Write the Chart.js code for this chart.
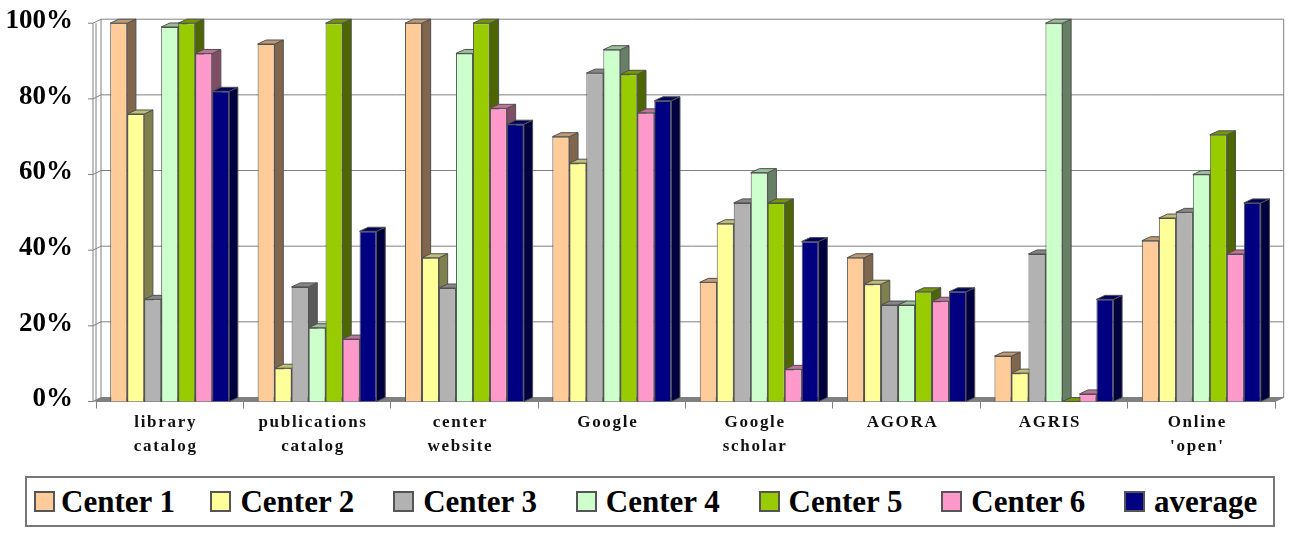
<!DOCTYPE html>
<html>
<head>
<meta charset="utf-8">
<script src="https://cdn.jsdelivr.net/npm/chart.js@4"></script>
<style>
  html, body { margin: 0; padding: 0; background: #fff; }
  #wrap { position: relative; width: 1289px; height: 539px; overflow: hidden; filter: blur(0.6px); }
  canvas { position: absolute; left: 0; top: 0; }
  #legendContainer {
    position: absolute; left: 25px; top: 476px; width: 1250px; height: 51px;
    box-sizing: border-box; border: 2px solid #777; background: #fff;
    display: flex; align-items: center; padding-left: 7px; gap: 38.8px;
    font: bold 31px "Liberation Serif", serif; color: #000; white-space: nowrap;
  }
  .legendItem { display: flex; align-items: center; }
  .legendItem:first-child { margin-right: -3.3px; }
  .legendBox { width: 21px; height: 21px; box-sizing: border-box; border: 2px solid #555; margin-right: 9px; }
  .legendItem:first-child .legendBox { margin-right: 6px; }
</style>
</head>
<body>
<div id="wrap">
  <canvas id="chart" width="1289" height="539"></canvas>
  <div id="legendContainer"></div>
</div>
<script>
const categories = [
  ['library', 'catalog'],
  ['publications', 'catalog'],
  ['center', 'website'],
  'Google',
  ['Google', 'scholar'],
  'AGORA',
  'AGRIS',
  ['Online', "'open'"]
];
const yTickValues = [0, 20, 40, 60, 80, 100];

const seriesNames = ['Center 1', 'Center 2', 'Center 3', 'Center 4', 'Center 5', 'Center 6', 'average'];
const seriesColors = ['#FFCC99', '#FFFF99', '#B2B2B2', '#CCFFCC', '#99CC00', '#FF99CC', '#000080'];

const center1 = [100, 94.5, 100, 70, 31.5, 38, 12, 42.5];
const center2 = [76, 8.8, 38, 63, 47, 31, 7.5, 48.5];
const center3 = [27, 30.3, 30, 86.8, 52.5, 25.5, 39, 50];
const center4 = [99, 19.5, 92, 93, 60.5, 25.5, 100, 60];
const center5 = [100, 100, 100, 86.5, 52.5, 29, 0, 70.5];
const center6 = [92, 16.5, 77.5, 76.3, 8.5, 26.5, 2, 39];
const average = [82, 45, 73.3, 79.5, 42.3, 29, 27, 52.5];
const seriesValues = [center1, center2, center3, center4, center5, center6, average];

// depth of the fake 3D look
const depthX = 8.7;
const depthY = 4;
const wallLine = '#808080';
const barLine = '#505050';

function shade(hex, f) {
  const n = parseInt(hex.slice(1), 16);
  const r = Math.round(((n >> 16) & 255) * f);
  const g = Math.round(((n >> 8) & 255) * f);
  const b = Math.round((n & 255) * f);
  return `rgb(${r},${g},${b})`;
}

function poly(ctx, pts, fill, stroke) {
  ctx.beginPath();
  pts.forEach((p, i) => i ? ctx.lineTo(p[0], p[1]) : ctx.moveTo(p[0], p[1]));
  ctx.closePath();
  if (fill) { ctx.fillStyle = fill; ctx.fill(); }
  if (stroke) { ctx.strokeStyle = stroke; ctx.lineWidth = 1; ctx.stroke(); }
}

const box3d = {
  id: 'box3d',
  // walls, floor and gridlines go behind the bars
  beforeDatasetsDraw(chart) {
    const { ctx, chartArea, scales } = chart;
    const y = scales.y;
    const frontX = chartArea.left - 3;
    const backX = frontX + 8;
    const rightX = chartArea.right;
    const y0 = y.getPixelForValue(0);
    const yTop = y.getPixelForValue(100);
    ctx.save();
    poly(ctx, [[frontX, y0], [rightX, y0], [rightX + depthX, y0 - depthY], [backX, y0 - depthY]], wallLine);
    ctx.strokeStyle = wallLine;
    ctx.lineWidth = 1;
    ctx.beginPath();
    yTickValues.forEach(v => {
      const py = y.getPixelForValue(v);
      ctx.moveTo(frontX - 5, py);
      ctx.lineTo(frontX, py);
      ctx.lineTo(backX, py - depthY);
      ctx.lineTo(rightX + depthX, py - depthY);
    });
    [frontX, chartArea.left, backX].forEach(px => {
      const shift = px === backX ? depthY : 0;
      ctx.moveTo(px, yTop - shift);
      ctx.lineTo(px, y0 - shift);
    });
    ctx.moveTo(rightX + depthX, yTop - depthY);
    ctx.lineTo(rightX + depthX, y0 - depthY);
    ctx.lineTo(rightX, y0);
    ctx.stroke();
    ctx.restore();
  },
  // chart.js paints datasets last to first, we need first to last so each
  // bar covers the side of its left neighbour
  beforeDatasetDraw() {
    return false;
  },
  afterDatasetsDraw(chart) {
    const { ctx } = chart;
    ctx.save();
    chart.data.datasets.forEach((ds, i) => {
      chart.getDatasetMeta(i).data.forEach(bar => {
        const p = bar.getProps(['x', 'y', 'base', 'width']);
        const l = p.x - p.width / 2;
        const r = p.x + p.width / 2;
        poly(ctx, [[r, p.y], [r + depthX, p.y - depthY], [r + depthX, p.base - depthY], [r, p.base]], shade(seriesColors[i], 0.5), barLine);
        poly(ctx, [[l, p.y], [l + depthX, p.y - depthY], [r + depthX, p.y - depthY], [r, p.y]], shade(seriesColors[i], 0.75), barLine);
        bar.draw(ctx);
      });
    });
    ctx.restore();
    // the x labels are drawn right after this and are spaced out in the original
    ctx.letterSpacing = '1.7px';
  },
  afterDraw(chart) {
    chart.ctx.letterSpacing = '0px';
  }
};

new Chart(document.getElementById('chart').getContext('2d'), {
  type: 'bar',
  plugins: [box3d],
  data: {
    labels: categories,
    datasets: seriesNames.map((name, i) => ({
      label: name,
      data: seriesValues[i],
      backgroundColor: seriesColors[i],
      borderColor: barLine,
      borderWidth: 1,
      categoryPercentage: 0.807,
      barPercentage: 1
    }))
  },
  options: {
    responsive: false,
    animation: false,
    layout: { padding: { top: 0, right: 14, left: 0, bottom: 0 } },
    plugins: { legend: { display: false }, tooltip: { enabled: false } },
    scales: {
      x: {
        afterFit(scale) { scale.height = 137.5; },
        border: { color: wallLine, width: 1 },
        grid: { drawOnChartArea: false, tickLength: 7, color: wallLine },
        ticks: {
          z: 1,
          autoRotate: false,
          maxRotation: 0,
          autoSkip: false,
          padding: 2,
          labelOffset: -4,
          color: '#111',
          font: { family: '"Liberation Serif", serif', size: 17, weight: 'bold', lineHeight: 1.41 }
        }
      },
      y: {
        min: 0,
        max: 100,
        afterFit(scale) { scale.width = 96; },
        afterBuildTicks(scale) { scale.ticks = yTickValues.map(v => ({ value: v })); },
        border: { display: false },
        // marks are drawn in the plugin, tickLength only pushes the labels left
        grid: { display: false, tickLength: 16 },
        ticks: {
          padding: 7,
          labelOffset: -2,
          color: '#000',
          font: { family: '"Liberation Serif", serif', size: 27, weight: 'bold' },
          callback: v => v + '%'
        }
      }
    }
  }
});

// legend is plain html so the item spacing can follow the original
const legendContainer = document.getElementById('legendContainer');
seriesNames.forEach((name, i) => {
  const item = document.createElement('div');
  item.className = 'legendItem';
  const colorBox = document.createElement('div');
  colorBox.className = 'legendBox';
  colorBox.style.backgroundColor = seriesColors[i];
  const label = document.createElement('span');
  label.textContent = name;
  item.appendChild(colorBox);
  item.appendChild(label);
  legendContainer.appendChild(item);
});
</script>
</body>
</html>
